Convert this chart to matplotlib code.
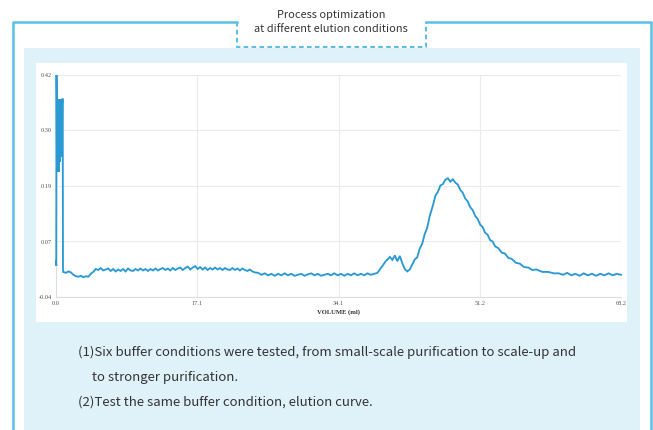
import numpy as np
import matplotlib
matplotlib.use("Agg")
import matplotlib.pyplot as plt
from matplotlib.patches import Rectangle
from matplotlib.lines import Line2D

# region Data (volume in ml, absorbance)
# injection spike
spike_vol = [0.00, 0.03, 0.06, 0.09, 0.12, 0.15, 0.18, 0.21, 0.24, 0.27, 0.30, 0.33,
             0.36, 0.39, 0.42, 0.45, 0.48, 0.51, 0.54, 0.57, 0.60, 0.63, 0.66, 0.69,
             0.72, 0.75, 0.78, 0.81, 0.84, 0.87]
spike_abs = [0.035, 0.025, 0.420, 0.360, 0.220, 0.370, 0.240, 0.370, 0.230, 0.360, 0.250, 0.370,
             0.220, 0.360, 0.270, 0.370, 0.240, 0.360, 0.260, 0.370, 0.270, 0.360, 0.250, 0.370,
             0.280, 0.360, 0.370, 0.370, 0.020, 0.012]

# early baseline with small dip
early_vol = [1.2, 1.5, 1.8, 2.1, 2.4, 2.7, 3.0, 3.3, 3.6, 3.9, 4.2, 4.5, 4.8]
early_abs = [0.010, 0.013, 0.011, 0.006, 0.003, 0.002, 0.004, 0.001, 0.003, 0.002, 0.008, 0.012, 0.018]

# flat plateau up to ~24 ml
plateau_vol = [5.1, 5.4, 5.7, 6.0, 6.3, 6.6, 6.9, 7.2, 7.5, 7.8, 8.1, 8.4, 8.7, 9.0, 9.3,
               9.6, 9.9, 10.2, 10.5, 10.8, 11.1, 11.4, 11.7, 12.0, 12.3, 12.6, 12.9, 13.2,
               13.5, 13.8, 14.1, 14.4, 14.7, 15.0, 15.3, 15.6, 15.9, 16.2, 16.5, 16.8, 17.1,
               17.4, 17.7, 18.0, 18.3, 18.6, 18.9, 19.2, 19.5, 19.8, 20.1, 20.4, 20.7, 21.0,
               21.3, 21.6, 21.9, 22.2, 22.5, 22.8, 23.1, 23.4, 23.7, 24.0]
plateau_abs = [0.016, 0.020, 0.015, 0.017, 0.019, 0.014, 0.018, 0.013, 0.017, 0.014, 0.018, 0.013,
               0.019, 0.015, 0.014, 0.018, 0.015, 0.019, 0.015, 0.018, 0.014, 0.018, 0.015, 0.019,
               0.015, 0.018, 0.020, 0.016, 0.019, 0.015, 0.020, 0.016, 0.019, 0.021, 0.016, 0.020,
               0.023, 0.017, 0.021, 0.024, 0.018, 0.022, 0.017, 0.021, 0.016, 0.020, 0.017, 0.021,
               0.017, 0.020, 0.016, 0.020, 0.017, 0.016, 0.020, 0.016, 0.019, 0.015, 0.019, 0.016,
               0.014, 0.017, 0.013, 0.011]

# lower baseline before the elution peaks
low_vol = [24.4, 24.8, 25.2, 25.6, 26.0, 26.4, 26.8, 27.2, 27.6, 28.0, 28.4, 28.8, 29.2,
           29.6, 30.0, 30.4, 30.8, 31.2, 31.6, 32.0, 32.4, 32.8, 33.2, 33.6, 34.0, 34.4,
           34.8, 35.2, 35.6, 36.0, 36.4, 36.8, 37.2, 37.6, 38.0, 38.4]
low_abs = [0.010, 0.006, 0.009, 0.005, 0.008, 0.004, 0.008, 0.005, 0.009, 0.005, 0.008, 0.004,
           0.006, 0.008, 0.004, 0.007, 0.009, 0.005, 0.008, 0.004, 0.006, 0.008, 0.005, 0.009,
           0.005, 0.008, 0.004, 0.008, 0.005, 0.009, 0.005, 0.008, 0.005, 0.009, 0.006, 0.008]

# shoulder and main elution peak
peak_vol = [38.8, 39.3, 39.8, 40.3, 40.6, 40.9, 41.2, 41.5, 41.8, 42.1, 42.4, 42.7, 43.0,
            43.3, 43.6, 43.9, 44.2, 44.5, 44.8, 45.1, 45.5, 45.8, 46.1, 46.4, 46.7, 47.0,
            47.3, 47.6, 47.9, 48.2, 48.5, 48.8, 49.1, 49.4, 49.7, 50.0, 50.3, 50.6, 50.9,
            51.2, 51.5, 51.8, 52.1, 52.4, 52.7, 53.0, 53.4, 53.8, 54.2, 54.6, 55.0, 55.5,
            56.0, 56.5, 57.0, 57.5, 58.0, 58.7, 59.4, 60.1]
peak_abs = [0.010, 0.022, 0.034, 0.043, 0.037, 0.046, 0.034, 0.045, 0.030, 0.018, 0.013, 0.017,
            0.027, 0.038, 0.042, 0.060, 0.070, 0.090, 0.103, 0.127, 0.150, 0.170, 0.178, 0.191,
            0.194, 0.203, 0.206, 0.199, 0.204, 0.197, 0.193, 0.182, 0.176, 0.164, 0.158, 0.146,
            0.140, 0.128, 0.122, 0.110, 0.105, 0.093, 0.089, 0.078, 0.075, 0.065, 0.061, 0.052,
            0.050, 0.041, 0.039, 0.031, 0.029, 0.022, 0.021, 0.016, 0.017, 0.012, 0.012, 0.009]

# tail baseline
tail_vol = [60.7, 61.2, 61.7, 62.2, 62.7, 63.2, 63.7, 64.2, 64.7, 65.2, 65.7, 66.2, 66.7,
            67.2, 67.7, 68.2]
tail_abs = [0.009, 0.006, 0.010, 0.005, 0.008, 0.004, 0.009, 0.005, 0.008, 0.004, 0.008, 0.005,
            0.009, 0.005, 0.008, 0.006]

x_ticks = [0.0, 17.05, 34.1, 51.15, 68.2]
x_tick_labels = ["0.0", "17.1", "34.1", "51.2", "68.2"]
y_ticks = [-0.04, 0.075, 0.19, 0.305, 0.42]
y_tick_labels = ["-0.04", "0.07", "0.19", "0.30", "0.42"]

title_lines = "Process optimization\nat different elution conditions"
note_1a = "(1)Six buffer conditions were tested, from small-scale purification to scale-up and"
note_1b = "to stronger purification."
note_2 = "(2)Test the same buffer condition, elution curve."
# endregion

volume = np.concatenate([spike_vol, early_vol, plateau_vol, low_vol, peak_vol, tail_vol])
absorb = np.concatenate([spike_abs, early_abs, plateau_abs, low_abs, peak_abs, tail_abs])

W, H = 653, 430
fig = plt.figure(figsize=(W / 100, H / 100), dpi=100)
fig.patch.set_facecolor("white")

frame_c = "#5bbfe6"
panel_c = "#dff2fa"


def fx(px):
    return px / W


def fy(py):
    return 1 - py / H


def frect(x0, y0, x1, y1, **kw):
    fig.patches.append(Rectangle((fx(x0), fy(y1)), fx(x1) - fx(x0), fy(y0) - fy(y1),
                                 transform=fig.transFigure, **kw))


# light blue panel and white chart card
frect(24, 48, 640, 432, facecolor=panel_c, edgecolor="none", zorder=0)
frect(36, 63, 627, 322, facecolor="white", edgecolor="none", zorder=0.5)

# outer frame with a gap for the title box
solid = dict(color=frame_c, lw=1.8, transform=fig.transFigure, zorder=2)
fig.lines.append(Line2D([fx(13), fx(13), fx(237)], [fy(432), fy(22), fy(22)], **solid))
fig.lines.append(Line2D([fx(426), fx(651), fx(651)], [fy(22), fy(22), fy(432)], **solid))
dashed = dict(color=frame_c, lw=1.5, ls=(0, (2.2, 1.6)), transform=fig.transFigure, zorder=2)
fig.lines.append(Line2D([fx(237), fx(237), fx(426), fx(426)],
                        [fy(22), fy(47), fy(47), fy(22)], **dashed))

sans = ["Noto Sans CJK SC", "DejaVu Sans"]
fig.text(fx(331), fy(22), title_lines, ha="center", va="center", fontsize=7.9,
         color="#333333", family=sans, linespacing=1.45)
fig.text(fx(78), fy(352), note_1a, ha="left", va="center", fontsize=9.5, color="#333333", family=sans)
fig.text(fx(92), fy(377), note_1b, ha="left", va="center", fontsize=9.5, color="#333333", family=sans)
fig.text(fx(78), fy(402), note_2, ha="left", va="center", fontsize=9.5, color="#333333", family=sans)

# chromatogram
ax = fig.add_axes([fx(56), fy(297), fx(621) - fx(56), fy(75) - fy(297)])
ax.set_zorder(1)
ax.set_facecolor("white")
ax.plot(volume, absorb, color="#2b9ad4", lw=1.35, solid_joinstyle="miter", zorder=3, clip_on=False)
ax.set_xlim(0, 68.2)
ax.set_ylim(-0.04, 0.42)
ax.set_xticks(x_ticks)
ax.set_xticklabels(x_tick_labels)
ax.set_yticks(y_ticks)
ax.set_yticklabels(y_tick_labels)
ax.grid(True, color="#ebebeb", lw=0.8)
ax.set_axisbelow(True)
for s in ["top", "right"]:
    ax.spines[s].set_visible(False)
for s in ["left", "bottom"]:
    ax.spines[s].set_color("#dddddd")
    ax.spines[s].set_linewidth(0.8)
ax.tick_params(length=0, labelsize=4.6, colors="#555555", pad=3)
for lab in ax.get_xticklabels() + ax.get_yticklabels():
    lab.set_family("Liberation Serif")
ax.set_xlabel("VOLUME (ml)", fontsize=4.8, family="Liberation Serif", fontweight="bold",
              color="#333333", labelpad=2)

fig.savefig("out.png", dpi=100)
